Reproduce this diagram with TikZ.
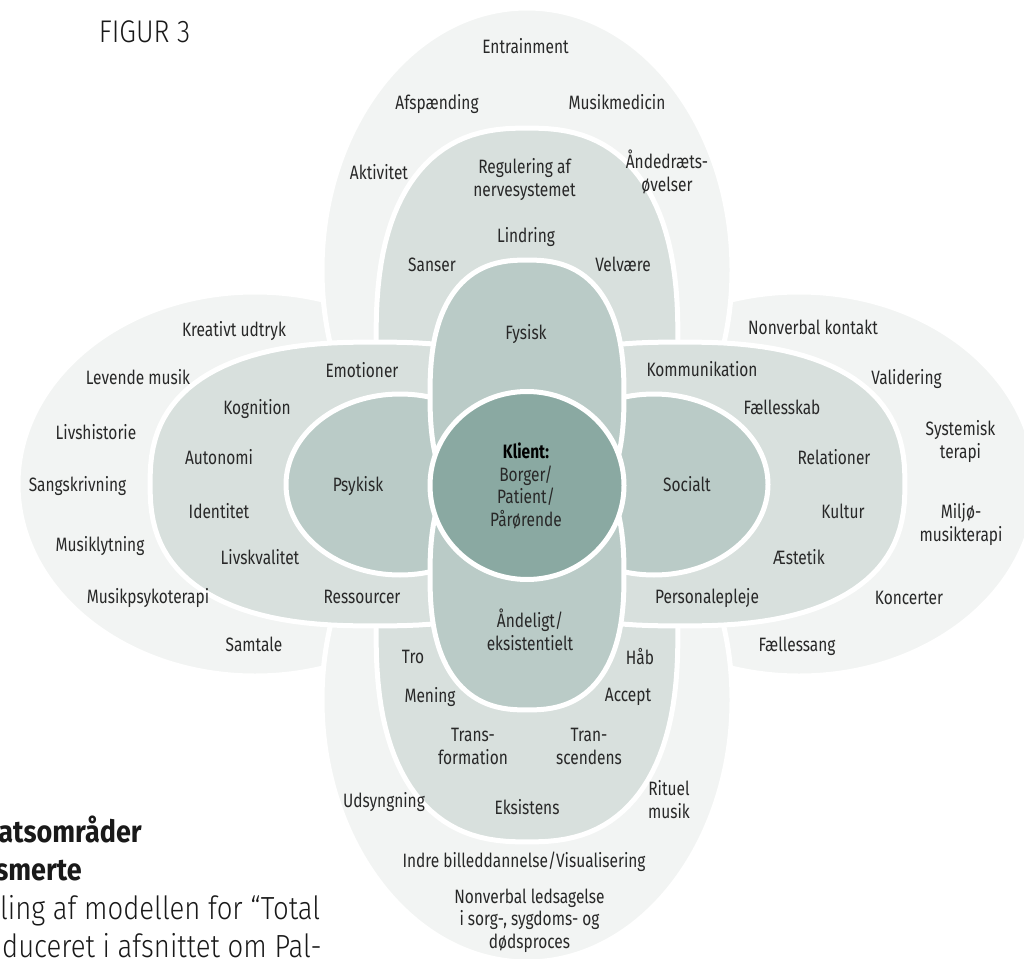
\documentclass[tikz,border=0pt]{standalone}
\usepackage{fontspec}
\setmainfont{Fira Sans}[FakeStretch=0.8]
\newfontfamily\headfont{Fira Sans}[FakeStretch=0.88]
\IfFontExistsTF{Fira Sans Light}{%
  \newfontfamily\pagefont{Fira Sans}[UprightFont={* Light},FakeStretch=0.86]%
}{%
  \newfontfamily\pagefont{Fira Sans}[FakeStretch=0.84]%
}
\usepackage{tikz}

\definecolor{gOuter}{RGB}{242,244,243}
\definecolor{gMiddle}{RGB}{216,224,221}
\definecolor{gInner}{RGB}{186,203,199}
\definecolor{gCore}{RGB}{138,169,162}
\definecolor{txtcol}{RGB}{40,40,40}

% label font, fixed line distance
\newcommand{\lblfont}{\fontsize{14.5}{16.9}\selectfont\lineskiplimit=-100pt\relax}
% egg shaped petal: centre, half width, half height
\newcommand{\eggpath}[4]{plot[domain=1.5:358.5,samples=120,variable=\t]
  ({#1+#3*cos(\t)/abs(cos(\t))^0.2},{#2+#4*sin(\t)/abs(sin(\t))^0.2}) -- cycle}

\begin{document}
\begin{tikzpicture}[x=0.75pt,y=0.75pt,yscale=-1,xscale=1,
  outerpetal/.style={fill=gOuter,draw=white,line width=3.75pt,line join=round},
  midpetal/.style={fill=gMiddle,draw=white,line width=3.75pt,line join=round},
  innerpetal/.style={fill=gInner,draw=white,line width=3.75pt,line join=round},
  corecircle/.style={fill=gCore,draw=white,line width=3.75pt},
  lbl/.style={font=\lblfont,text=txtcol,inner sep=0.75pt,align=center,anchor=base},
  pagetxt/.style={font=\pagefont,text=black!90,inner sep=0pt,anchor=base east},
  pagehead/.style={font=\headfont\bfseries,text=black!90,inner sep=0pt,anchor=base east}]
	\useasboundingbox (0,0) rectangle (1024,959);
	\clip (0,0) rectangle (1024,959);

	%Shape: Ellipse outer left
	\draw [outerpetal] (255,484) ellipse [x radius=237, y radius=192];
	%Shape: Ellipse outer right
	\draw [outerpetal] (799,484) ellipse [x radius=237, y radius=192];
	%Shape: Ellipse outer top
	\draw [outerpetal] (527,270) ellipse [x radius=205, y radius=262];
	%Shape: Ellipse outer bottom
	\draw [outerpetal] (527,700) ellipse [x radius=205, y radius=262];

	%Shape: Egg middle top
	\draw [midpetal] \eggpath{527}{342}{151}{214};
	%Shape: Egg middle bottom
	\draw [midpetal] \eggpath{527}{628}{151}{214};
	%Shape: Egg middle left
	\draw [midpetal] \eggpath{375}{484}{225}{142};
	%Shape: Egg middle right
	\draw [midpetal] \eggpath{680}{484}{225}{142};

	%Shape: Ellipse inner left
	\draw [innerpetal] (400,484.5) ellipse [x radius=114, y radius=90.5];
	%Shape: Ellipse inner right
	\draw [innerpetal] (654,484.5) ellipse [x radius=114, y radius=90.5];
	%Shape: Egg inner top
	\draw [innerpetal] \eggpath{527}{395}{97}{135};
	%Shape: Egg inner bottom
	\draw [innerpetal] \eggpath{527}{575}{97}{135};

	%Shape: Circle core
	\draw [corecircle] (527,485.5) ellipse [x radius=97, y radius=94];

	% Text Node
	\node [pagetxt, anchor=base] (figtitle) at (144.5,42.7) {\fontsize{23.5}{28}\selectfont FIGUR 3};

	% Text Node
	\node [lbl] (entrainment) at (525.5,53.5) {Entrainment};
	% Text Node
	\node [lbl] (afspaending) at (437,109.5) {Afspænding};
	% Text Node
	\node [lbl] (musikmedicin) at (617,109.5) {Musikmedicin};
	% Text Node
	\node [lbl] (aktivitet) at (379,179.5) {Aktivitet};
	% Text Node
	\node [lbl] (aandedraet) at (667,191.5) {Åndedræts-\\øvelser};
	% Text Node
	\node [lbl] (regulering) at (524.5,196.5) {Regulering af\\nervesystemet};
	% Text Node
	\node [lbl] (lindring) at (526,242.5) {Lindring};
	% Text Node
	\node [lbl] (sanser) at (432,271.5) {Sanser};
	% Text Node
	\node [lbl] (velvaere) at (623,271.5) {Velvære};
	% Text Node
	\node [lbl] (fysisk) at (526,339.5) {Fysisk};

	% Text Node
	\node [lbl] (kreativt) at (234,336.5) {Kreativt udtryk};
	% Text Node
	\node [lbl] (levende) at (138,384.5) {Levende musik};
	% Text Node
	\node [lbl] (livshistorie) at (96,439.5) {Livshistorie};
	% Text Node
	\node [lbl] (sangskrivning) at (77.5,491.5) {Sangskrivning};
	% Text Node
	\node [lbl] (musiklytning) at (100,551.5) {Musiklytning};
	% Text Node
	\node [lbl] (musikpsyk) at (148,603.5) {Musikpsykoterapi};
	% Text Node
	\node [lbl] (samtale) at (254,651.5) {Samtale};
	% Text Node
	\node [lbl] (emotioner) at (362,377) {Emotioner};
	% Text Node
	\node [lbl] (kognition) at (257,414.5) {Kognition};
	% Text Node
	\node [lbl] (autonomi) at (219,464.5) {Autonomi};
	% Text Node
	\node [lbl] (identitet) at (219,518.5) {Identitet};
	% Text Node
	\node [lbl] (livskvalitet) at (260,564.5) {Livskvalitet};
	% Text Node
	\node [lbl] (ressourcer) at (362,603.5) {Ressourcer};
	% Text Node
	\node [lbl] (psykisk) at (358,491.5) {Psykisk};

	% Text Node
	\node [lbl] (klient) at (526,526.5) {\textbf{\color{black}Klient:}\\Borger/\\Patient/\\Pårørende};

	% Text Node
	\node [lbl] (nonverbal) at (813,334.5) {Nonverbal kontakt};
	% Text Node
	\node [lbl] (validering) at (906.5,384.5) {Validering};
	% Text Node
	\node [lbl] (systemisk) at (960.5,458) {Systemisk\\terapi};
	% Text Node
	\node [lbl] (miljoe) at (961,541.5) {Miljø-\\musikterapi};
	% Text Node
	\node [lbl] (koncerter) at (909,604.5) {Koncerter};
	% Text Node
	\node [lbl] (faellessang) at (797,651.5) {Fællessang};
	% Text Node
	\node [lbl] (kommunikation) at (702,376.5) {Kommunikation};
	% Text Node
	\node [lbl] (faellesskab) at (782,414.5) {Fællesskab};
	% Text Node
	\node [lbl] (relationer) at (834,464.5) {Relationer};
	% Text Node
	\node [lbl] (kultur) at (843,518) {Kultur};
	% Text Node
	\node [lbl] (aestetik) at (799,564.5) {Æstetik};
	% Text Node
	\node [lbl] (personalepleje) at (707,603.5) {Personalepleje};
	% Text Node
	\node [lbl] (socialt) at (687,491.5) {Socialt};

	% Text Node
	\node [lbl] (aandeligt) at (530,650.5) {Åndeligt/\\eksistentielt};
	% Text Node
	\node [lbl] (tro) at (413,663.5) {Tro};
	% Text Node
	\node [lbl] (mening) at (430,702.5) {Mening};
	% Text Node
	\node [lbl] (haab) at (640,664.5) {Håb};
	% Text Node
	\node [lbl] (accept) at (628,701.5) {Accept};
	% Text Node
	\node [lbl] (transformation) at (473,764.5) {Trans-\\formation};
	% Text Node
	\node [lbl] (transcendens) at (589,764.5) {Tran-\\scendens};
	% Text Node
	\node [lbl] (eksistens) at (527,814.5) {Eksistens};
	% Text Node
	\node [lbl] (udsyngning) at (384,807.5) {Udsyngning};
	% Text Node
	\node [lbl] (rituel) at (669,818.5) {Rituel\\musik};
	% Text Node
	\node [lbl] (indre) at (524,867.5) {Indre billeddannelse/Visualisering};
	% Text Node
	\node [lbl] (ledsagelse) at (529.5,948.5) {Nonverbal ledsagelse\\i sorg-, sygdoms- og\\dødsproces};

	% Text Node
	\node [pagehead] (headone) at (142,842) {\fontsize{23}{28}\selectfont atsområder};
	% Text Node
	\node [pagehead] (headtwo) at (82,880) {\fontsize{23}{28}\selectfont smerte};
	% Text Node
	\node [pagetxt] (bodyone) at (320.5,919) {\fontsize{24}{29}\selectfont ling af modellen for “Total};
	% Text Node
	\node [pagetxt] (bodytwo) at (322,957) {\fontsize{24}{29}\selectfont duceret i afsnittet om Pal-};

\end{tikzpicture}
\end{document}
